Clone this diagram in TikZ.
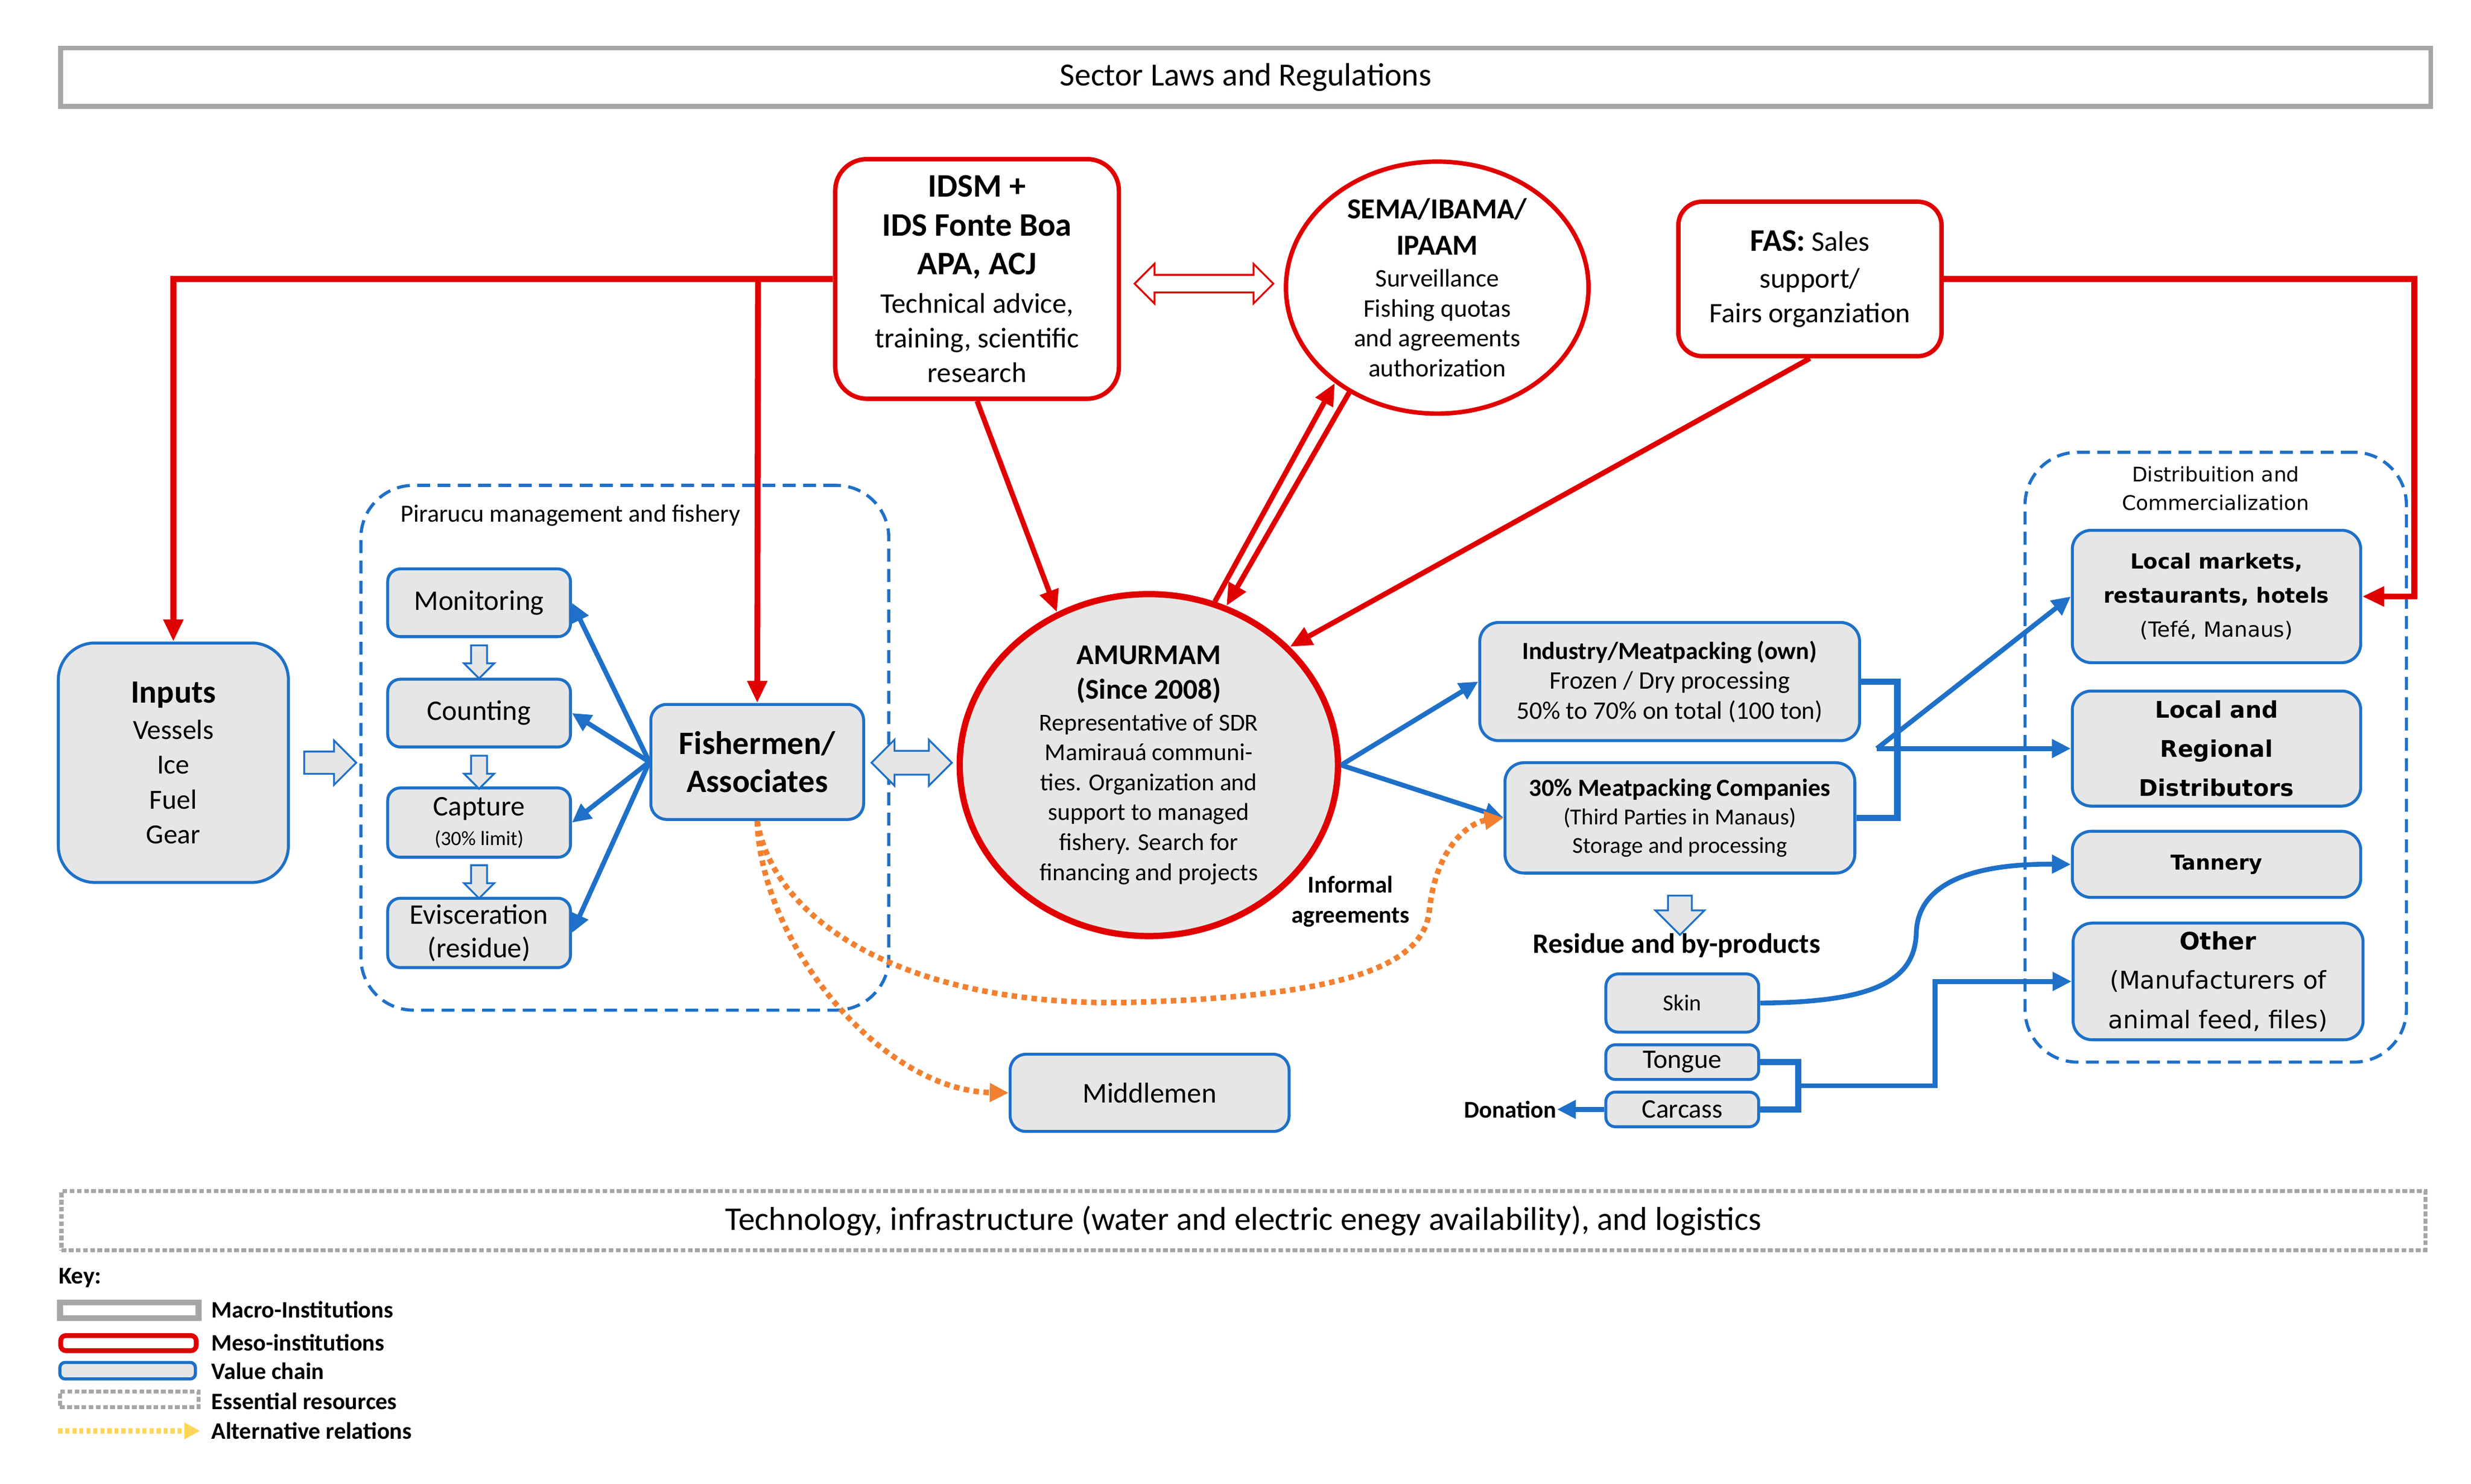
\documentclass[tikz,border=0pt]{standalone}
\usepackage{fontspec}
\setmainfont{Carlito}
\newfontfamily\verd{DejaVu Sans}
\usetikzlibrary{arrows.meta,shapes.geometric,shapes.arrows,calc}
\definecolor{vblue}{RGB}{30,112,200}
\definecolor{mred}{RGB}{224,0,0}
\definecolor{vgray}{RGB}{230,230,230}
\definecolor{mgray}{RGB}{166,166,166}
\definecolor{aorange}{RGB}{242,128,48}
\definecolor{ayellow}{RGB}{255,214,90}
\newcommand{\fz}[2]{\fontsize{#1pt}{#2pt}\selectfont}
\begin{document}
\begin{tikzpicture}[x=0.3mm,y=-0.3mm,
  dim/.style n args={2}{minimum width=#1*0.3mm, minimum height=#2*0.3mm},
  vc/.style={draw=vblue, fill=vgray, line width=1.6pt, rounded corners=2.4mm, align=center, inner sep=0pt},
  dc/.style={vc, rounded corners=3.6mm},
  meso/.style={draw=mred, fill=white, line width=2.4pt, align=center, inner sep=0pt},
  redln/.style={draw=mred, line width=3.2pt},
  redarr/.style={redln, -{Triangle[length=4.2mm,width=3.6mm]}},
  bluearr/.style={draw=vblue, line width=2.6pt, -{Triangle[length=3.6mm,width=3.4mm]}},
  blueln/.style={draw=vblue, line width=3.4pt},
  altarr/.style={draw=aorange, line width=3pt, dash pattern=on 3pt off 2.4pt, -{Triangle[length=3.6mm,width=3.4mm]}},
  % hollow block arrows: shaft/2 set by inner ysep, head width by minimum width, length by minimum height
  harrow/.style n args={4}{inner xsep=0pt, inner ysep=#1*0.15mm, minimum width=#2*0.3mm, minimum height=#3*0.3mm, #4},
  hollowarr/.style={single arrow, draw=vblue, fill=vgray, line width=1pt},
  groupbox/.style={draw=vblue, dash pattern=on 7pt off 4pt, line width=1.7pt, rounded corners=10mm, inner sep=0pt},
  txt/.style={inner sep=0pt, align=center},
]
\useasboundingbox (0,0) rectangle (1568,941.6);

% ---------- macro institutions / essential resources ----------
\node[draw=mgray, line width=2.6pt, dim={1504}{37}, inner sep=0pt] (laws) at (790.5,49)
  {\fz{17.5}{20}Sector Laws and Regulations};
\node[draw=mgray, line width=2.2pt, dash pattern=on 2.6pt off 1.3pt, dim={1500}{37.5}, inner sep=0pt] (tech) at (789,774.6)
  {\fz{17.9}{20}Technology, infrastructure (water and electric enegy availability), and logistics};

% ---------- group boxes ----------
\node[groupbox, dim={335}{333}] (pgroup) at (396.5,474.5) {};
\node[txt, font=\fz{13.4}{16}] (plab) at (362,327) {Pirarucu management and fishery};
\node[groupbox, dim={242}{387}] (dgroup) at (1406,480.5) {};
\node[txt, font=\verd\fz{10.9}{15.4}] (dlab) at (1406,310) {Distribuition and\\Commercialization};

% ---------- meso institutions ----------
\node[meso, rounded corners=6mm, dim={180}{152}, font=\fz{15.4}{18.8}] (idsm) at (620,177)
  {{\fz{17.8}{18.8}\bfseries IDSM +}\\[2.3pt]{\fz{17.8}{18.8}\bfseries IDS Fonte Boa}\\[2.3pt]{\fz{17.8}{18.8}\bfseries APA, ACJ}\\[2pt]Technical advice,\\training, scientific\\research};
\node[meso, ellipse, dim={192}{155}, font=\fz{13.7}{16.2}] (sema) at (912,182.5)
  {{\fz{15.7}{16.2}\bfseries SEMA/IBAMA/}\\[3.4pt]{\fz{15.7}{16.2}\bfseries IPAAM}\\[1pt]Surveillance\\Fishing quotas\\and agreements\\authorization};
\node[meso, rounded corners=4.5mm, dim={167}{98}, font=\fz{15.3}{18.8}] (fas) at (1148.5,177)
  {{\fz{17}{18.8}\bfseries FAS:} Sales\\[1pt]support/\\Fairs organziation};
\node[double arrow, draw=mred, fill=white, line width=1pt, harrow={10}{24}{88}{double arrow head extend=7*0.3mm}] (dblr) at (764,180) {};

% ---------- value chain ----------
\node[vc, rounded corners=7mm, dim={146}{152}, font=\fz{15}{18.8}] (inp) at (110,484)
  {{\fz{17.6}{18.8}\bfseries Inputs}\\[1pt]Vessels\\Ice\\Fuel\\Gear};
\node[hollowarr, harrow={13}{27}{33}{single arrow head extend=7*0.3mm}] (a1) at (206,484) {};
\node[vc, dim={116}{43}, font=\fz{15.4}{18}] (mon) at (304,382.5) {Monitoring};
\node[vc, dim={116}{43}, font=\fz{15.4}{18}] (cnt) at (304,452.5) {Counting};
\node[vc, dim={116}{44}, font=\fz{11}{16.2}] (cap) at (304,522) {{\fz{15.4}{16.2}Capture}\\(30\% limit)};
\node[vc, dim={116}{44}, font=\fz{15.4}{18}] (evi) at (304,592) {Evisceration\\(residue)};
\node[hollowarr, rotate=-90, harrow={9}{18}{21}{single arrow head extend=4.5*0.3mm}] (s1) at (304,417.5) {};
\node[hollowarr, rotate=-90, harrow={9}{18}{21}{single arrow head extend=4.5*0.3mm}] (s2) at (304,487.5) {};
\node[hollowarr, rotate=-90, harrow={9}{18}{21}{single arrow head extend=4.5*0.3mm}] (s3) at (304,557) {};
\node[vc, rounded corners=3mm, dim={135}{73}, font=\fz{17.7}{20.5}\bfseries] (fish) at (480.5,483.5) {Fishermen/\\Associates};
\node[double arrow, draw=vblue, fill=vgray, line width=1pt, harrow={14}{28}{51}{double arrow head extend=7*0.3mm}] (a2) at (578.5,484) {};
\node[draw=mred, fill=vgray, line width=3.4pt, ellipse, dim={240}{217}, align=center, inner sep=0pt, font=\fz{13.2}{16.2}] (amur) at (729,485.5)
  {{\fz{15.5}{16.2}\bfseries AMURMAM}\\[2.6pt]{\fz{15.5}{16.2}\bfseries (Since 2008)}\\[1pt]Representative of SDR\\Mamirauá communi-\\ties. Organization and\\support to managed\\fishery. Search for\\financing and projects};
\node[txt, font=\fz{13}{16.2}\bfseries] (inf) at (857,572) {Informal\\agreements};
\node[vc, rounded corners=3mm, dim={177}{49}, font=\fz{15.5}{18}] (mid) at (729.5,693.5) {Middlemen};
\node[vc, rounded corners=3.6mm, dim={241}{75}, font=\fz{13.7}{16.2}] (ind) at (1059.5,432.5)
  {{\fz{13.4}{16.2}\bfseries Industry/Meatpacking (own)}\\Frozen / Dry processing\\50\% to 70\% on total (100 ton)};
\node[vc, rounded corners=3.6mm, dim={222}{70}, font=\fz{12.4}{15.4}] (mp) at (1066,519)
  {{\fz{13.4}{15.4}\bfseries 30\% Meatpacking Companies}\\(Third Parties in Manaus)\\Storage and processing};
\node[hollowarr, rotate=-90, harrow={14}{30}{25}{single arrow head extend=8*0.3mm}] (s4) at (1066,577) {};
\node[txt, font=\fz{15.2}{18}\bfseries] (res) at (1064,600) {Residue and by-products};
\node[vc, dim={97}{37}, font=\fz{12.4}{15}] (skin) at (1067.5,636.5) {Skin};
\node[vc, rounded corners=1.8mm, dim={97}{22}, font=\fz{14.5}{17}] (tong) at (1067.5,674) {Tongue};
\node[vc, rounded corners=1.8mm, dim={97}{22}, font=\fz{14.5}{17}] (carc) at (1067.5,704) {Carcass};
\node[txt, anchor=east, font=\fz{13}{15}\bfseries] (don) at (988,704) {Donation};

% distribution
\node[dc, dim={183}{84}, font=\verd\fz{11.3}{18.4}] (lm) at (1406.5,378.5)
  {\bfseries Local markets,\\\bfseries restaurants, hotels\\(Tefé, Manaus)};
\node[dc, dim={183}{73}, font=\verd\bfseries\fz{12.4}{21.3}] (dist) at (1406.5,475) {Local and\\Regional\\Distributors};
\node[dc, dim={183}{42}, font=\verd\bfseries\fz{11.1}{14}] (tan) at (1406.5,548.5) {Tannery};
\node[dc, dim={184}{74}, font=\verd\fz{13.2}{21.3}] (oth) at (1407.5,622.8)
  {{\bfseries\fz{13}{21.3}Other}\\(Manufacturers of\\animal feed, files)};

% ---------- red connectors ----------
\coordinate (rb) at (481,177);
\coordinate (rc) at (1532,177);
\draw[redarr] (idsm.west) -| (inp.north);
\draw[redarr] (rb) -- (fish.north);
\draw[redarr] (fas.east) -- (rc) |- (lm.east);
\draw[redarr, line width=2.8pt] (idsm.south) -- (amur.121);
\draw[redarr, line width=2.8pt] (amur.68.7) -- (sema.223);
\draw[redarr, line width=2.8pt] (sema.230) -- (amur.64.3);
\draw[redarr, line width=2.8pt] (fas.south) -- (amur.40.9);

% ---------- blue connectors ----------
\draw[bluearr] (fish.west) -- (mon.east);
\draw[bluearr] (fish.west) -- (cnt.east);
\draw[bluearr] (fish.west) -- (cap.east);
\draw[bluearr] (fish.west) -- (evi.east);
\draw[bluearr] (amur.east) -- (ind.west);
\draw[bluearr] (amur.east) -- (mp.west);
\coordinate (br) at (1204,475);
\coordinate (J) at (1191,475);
\draw[blueln] (ind.east) -| (br) |- (mp.east);
\draw[bluearr] (J) -- (lm.west);
\draw[bluearr] (J) -- (dist.west);
\draw[bluearr] (skin.east) .. controls (1190,636) and (1215,622) .. (1216,592) .. controls (1217,556) and (1262,548) .. (tan.west);
\coordinate (tc) at (1141,689);
\draw[blueln] (tong.east) -| (tc) |- (carc.east);
\draw[bluearr] (tc) -- ++(87,0) |- (oth.west);
\draw[bluearr] (carc.west) -- (don.east);

% ---------- alternative relations ----------
\draw[altarr] (fish.south) .. controls (483,600) and (560,692) .. (mid.west);
\draw[altarr] (fish.south) .. controls (492,590) and (585,640) .. (720,636) .. controls (850,632) and (903,614) .. (907,578) .. controls (911,538) and (932,522) .. (mp.west);

% ---------- key ----------
\node[anchor=west, inner sep=0pt, font=\fz{13}{15}\bfseries] (key) at (37,811) {Key:};
\node[draw=mgray, fill=white, line width=3.2pt, dim={88}{10}, inner sep=0pt] (kmac) at (82,831.5) {};
\node[draw=mred, fill=white, line width=2.6pt, rounded corners=1mm, dim={86}{9.6}, inner sep=0pt] (kmes) at (81.5,852.3) {};
\node[draw=vblue, fill=vgray, line width=1.7pt, rounded corners=1mm, dim={86}{10.5}, inner sep=0pt] (kval) at (81,869.8) {};
\node[draw=mgray, line width=2.2pt, dash pattern=on 2.6pt off 1.3pt, dim={88}{10}, inner sep=0pt] (kess) at (82,888) {};
\coordinate (kalt1) at (37,908);
\coordinate (kalt2) at (127,908);
\draw[draw=ayellow, line width=2.8pt, dash pattern=on 2.2pt off 1.6pt, -{Triangle[length=3mm,width=3mm]}] (kalt1) -- (kalt2);
\node[anchor=west, inner sep=0pt, font=\fz{12.8}{15}\bfseries] (tmac) at (134,831) {Macro-Institutions};
\node[anchor=west, inner sep=0pt, font=\fz{12.8}{15}\bfseries] (tmes) at (134,852) {Meso-institutions};
\node[anchor=west, inner sep=0pt, font=\fz{12.8}{15}\bfseries] (tval) at (134,870) {Value chain};
\node[anchor=west, inner sep=0pt, font=\fz{12.8}{15}\bfseries] (tess) at (134,889) {Essential resources};
\node[anchor=west, inner sep=0pt, font=\fz{12.8}{15}\bfseries] (talt) at (134,908) {Alternative relations};
\end{tikzpicture}
\end{document}
